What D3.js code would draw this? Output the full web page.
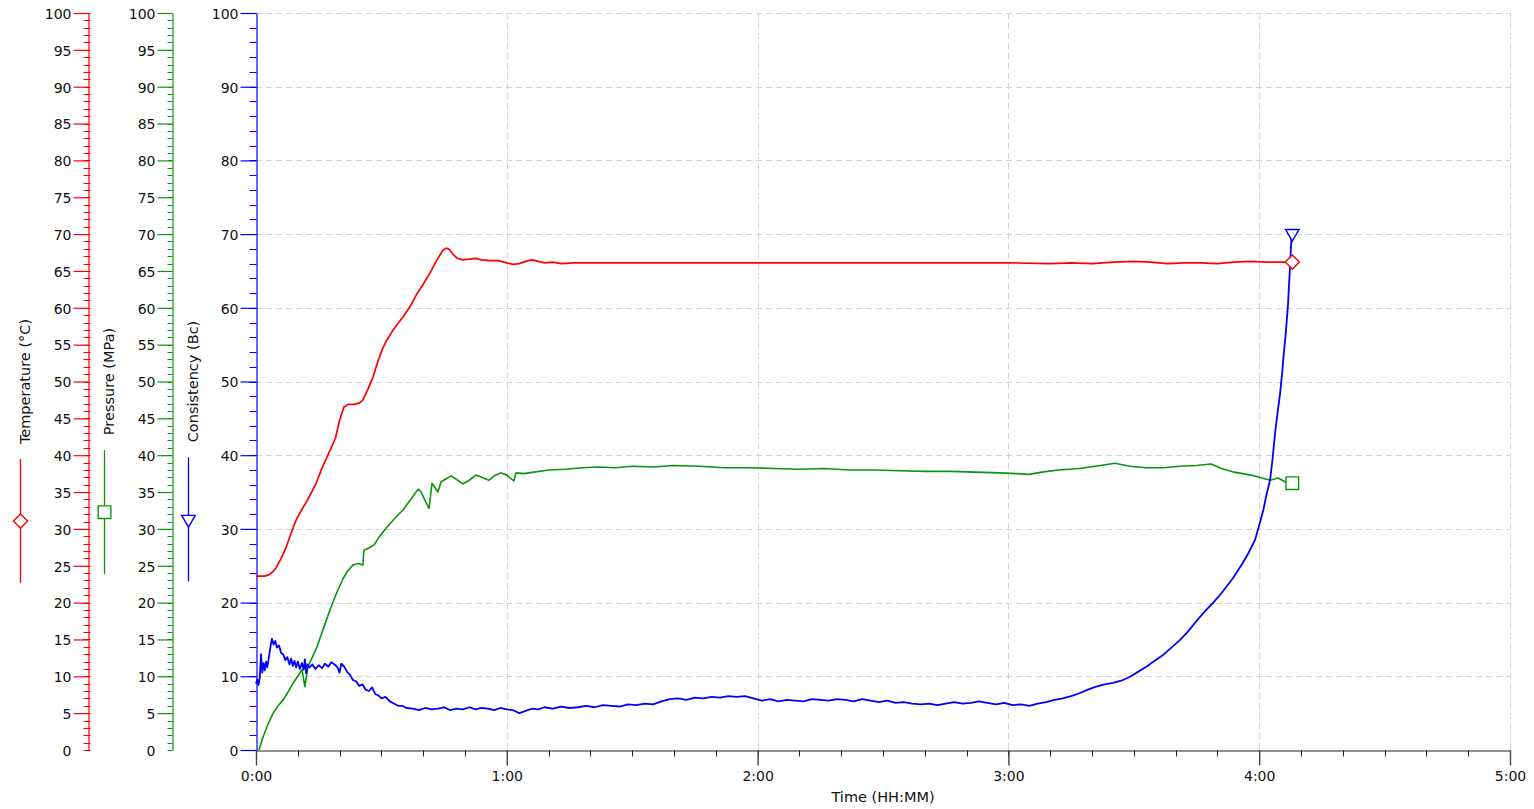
<!DOCTYPE html>
<html>
<head>
<meta charset="utf-8">
<script src="https://cdn.jsdelivr.net/npm/d3@7"></script>
<style>
  body { margin: 0; background: #fff; }
  text { font-family: "DejaVu Sans", Verdana, sans-serif; fill: #111; }
</style>
</head>
<body>
<svg id="chart" width="1534" height="809"></svg>
<script>
// time in minutes, value in axis units
var temperature = [[0,23.6],[2,23.6],[3.2,23.8],[4.2,24.3],[4.8,24.7],[6,26],[7.2,27.5],[8.4,29.4],[9.6,31.2],[10.8,32.5],
  [12,33.6],[13.2,34.9],[14.4,36.2],[15.6,38],[17.2,40],[19,42.3],[20,44.7],[21,46.5],[22,46.9],[23.5,46.9],[24.8,47.1],
  [25.6,47.5],[26.8,49],[28,50.6],[29.2,52.8],[30.3,54.5],[31.3,55.6],[32.8,57],[34,57.9],[35.2,58.8],[36.8,60.1],
  [38.4,61.8],[40,63.2],[41.6,64.7],[43.2,66.4],[44.7,67.8],[45.5,68.1],[46.3,67.9],[47.2,67.2],[48.2,66.7],[49.5,66.5],
  [51,66.6],[52.5,66.7],[54,66.5],[56,66.4],[58,66.4],[60,66.1],[61.5,65.9],[63,66],[64.5,66.3],[66,66.5],[67.5,66.3],
  [69,66.1],[71,66.2],[73,66],[76,66.1],[80,66.1],[90,66.1],[100,66.1],[110,66.1],[120,66.1],[130,66.1],[140,66.1],
  [150,66.1],[160,66.1],[170,66.1],[180,66.1],[190,66],[195,66.1],[200,66],[205,66.2],[210,66.3],[214,66.2],[218,66],
  [222,66.1],[226,66.1],[230,66],[234,66.2],[238,66.3],[242,66.2],[245,66.2],[247.8,66.2]];

var pressure = [[0.7,0],[1.7,1.8],[2.8,3.4],[4.1,5],[5.3,6],[6.5,6.8],[7.7,7.9],[8.9,9.1],[10,10],[11,10.9],[11.7,8.6],
  [12.4,11.3],[13.5,12.6],[14.6,14],[16,16.3],[17.7,19],[19.2,21.2],[20.8,23.2],[21.8,24.2],[23.2,25.1],[24.5,25.3],
  [25.6,25.1],[25.8,27.1],[27,27.4],[28.2,27.8],[29.6,29],[31.1,30.1],[33,31.3],[35.2,32.6],[37,34],[38.8,35.4],[39.5,35],
  [40.5,33.8],[41.4,32.8],[42.1,36.2],[43.5,35],[44.3,36.4],[45.5,36.8],[46.7,37.2],[48,36.7],[49.5,36.1],[51,36.6],
  [52.6,37.3],[54,37],[55.7,36.6],[57,37.2],[58.6,37.6],[60,37.3],[61.7,36.5],[62.2,37.6],[64,37.5],[66.5,37.7],[70,38],
  [74,38.1],[78,38.3],[82,38.4],[86,38.3],[90,38.5],[95,38.4],[100,38.6],[106,38.5],[112,38.3],[118,38.3],[124,38.2],
  [130,38.1],[136,38.2],[142,38],[148,38],[154,37.9],[160,37.8],[166,37.8],[172,37.7],[178,37.6],[182,37.5],[185,37.4],
  [188,37.7],[192,38],[197,38.2],[202,38.6],[205.5,38.9],[209,38.5],[213,38.3],[217,38.3],[221,38.5],[225,38.6],
  [228.5,38.8],[231,38.2],[234,37.7],[238,37.3],[240,37],[242.6,36.6],[244.5,36.9],[246.2,36.4],[247.8,36.2]];

var consistency = [[0,9],[0.3,9.6],[0.6,8.8],[0.9,9.8],[1.2,13],[1.5,10.5],[1.8,11.8],[2.1,10.8],[2.4,12],[2.7,11.2],
  [3,12.3],[3.4,13.8],[3.8,15.1],[4.2,14.3],[4.6,14.8],[5,13.9],[5.5,14.2],[6,13.2],[6.5,13],[7,12.2],[7.5,12.6],[8,11.6],
  [8.4,12.4],[8.8,11.4],[9.2,12.1],[9.6,11.2],[10,12],[10.5,11],[11,11.8],[11.4,10.9],[11.7,12.3],[12,10.4],[12.3,11.6],
  [12.8,11.2],[13.5,11.6],[14.2,11],[15,11.5],[15.8,11.1],[16.5,11.7],[17.3,11.3],[18,11.9],[18.8,11.6],[19.5,11.2],
  [20,10.5],[20.4,11.7],[21,11.4],[21.8,10.6],[22.5,10.2],[23.2,9.5],[24,9.3],[24.7,8.7],[25.5,8.9],[26.2,8.2],[27,8],
  [27.8,8.5],[28.5,7.6],[29.3,7.4],[30,7],[31,7.2],[32,6.6],[33,6.3],[34,6],[35,6],[36,5.7],[37.5,5.6],[39,5.4],[40.5,5.7],
  [42,5.5],[43.5,5.6],[45,5.8],[46.5,5.4],[48,5.6],[49.5,5.5],[51,5.8],[52.5,5.5],[54,5.7],[55.5,5.6],[57,5.4],[58.5,5.7],
  [60,5.5],[61.5,5.4],[63,5],[64.5,5.3],[66,5.6],[67.5,5.5],[69,5.8],[71,5.6],[73,5.9],[75,5.7],[77,5.8],[79,6],[81,5.8],
  [83,6.1],[85,6],[87,5.9],[89,6.2],[91,6.1],[93,6.3],[95,6.2],[97,6.6],[99,6.9],[101,7],[103,6.8],[105,7.1],[107,7],
  [109,7.2],[111,7.1],[113,7.3],[115,7.2],[117,7.3],[119,7],[121,6.7],[123,6.9],[125,6.6],[127,6.8],[129,6.7],[131,6.6],
  [133,6.9],[135,6.8],[137,6.7],[139,6.9],[141,6.8],[143,6.6],[145,6.9],[147,6.7],[149,6.5],[151,6.7],[153,6.4],[155,6.5],
  [157,6.3],[159,6.2],[161,6.3],[163,6.1],[165,6.3],[167,6.5],[169,6.3],[171,6.4],[173,6.6],[175,6.4],[177,6.2],[179,6.4],
  [181,6.1],[183,6.2],[185,6],[187,6.3],[189,6.5],[191,6.8],[193,7],[195,7.3],[197,7.7],[199,8.2],[201,8.6],[203,8.9],
  [205,9.1],[207,9.4],[209,9.9],[211,10.6],[213,11.3],[215,12.1],[217,12.9],[219,13.9],[221,14.9],[223,16.1],[225,17.5],
  [227,18.8],[229,20],[231,21.3],[233.7,23.3],[236,25.3],[237.5,26.8],[239,28.5],[240,30.5],[241,32.6],[241.8,34.8],
  [242.6,36.6],[243.2,39.5],[243.8,43],[244.4,45.8],[245,48.4],[245.5,51.2],[245.9,53.9],[246.3,56.2],[246.6,58.3],
  [246.9,60.5],[247.1,62.8],[247.4,65.7],[247.6,68.3],[247.8,70.1]];

var hourTicks = [0, 60, 120, 180, 240, 300];
var hourLabels = ["0:00", "1:00", "2:00", "3:00", "4:00", "5:00"];
var minuteTicks = d3.range(0, 301, 10);
var sideTicks = d3.range(0, 101, 5);     // temperature + pressure labels
var sideMinor = d3.range(0, 101, 1);
var mainTicks = d3.range(0, 101, 10);    // consistency labels
var mainMinor = d3.range(0, 101, 2);

var RED = "#ff0000", GREEN = "#0a960a", BLUE = "#0000ff";

var svg = d3.select("#chart");
var plotL = 256, plotR = 1510, plotT = 13, plotB = 750;

var x = d3.scaleLinear().domain([0, 300]).range([plotL, plotR]);
var y = d3.scaleLinear().domain([0, 100]).range([plotB, plotT]);

// grid
var grid = svg.append("g").attr("stroke", "#d4d4d4").attr("stroke-dasharray", "6,4").attr("stroke-width", 1);
grid.selectAll(".h").data(mainTicks.slice(1)).enter().append("line")
    .attr("x1", plotL).attr("x2", plotR)
    .attr("y1", function(d) { return Math.round(y(d)) + 0.5; }).attr("y2", function(d) { return Math.round(y(d)) + 0.5; });
grid.selectAll(".v").data(hourTicks.slice(1)).enter().append("line")
    .attr("y1", plotT).attr("y2", plotB)
    .attr("x1", function(d) { return Math.round(x(d)) + 0.5; }).attr("x2", function(d) { return Math.round(x(d)) + 0.5; });

function valueAxis(xpos, color, labels, minor, majorLen, minorFrom, minorTo, dropZero) {
  var g = svg.append("g").attr("transform", "translate(" + (xpos + 0.5) + ",0)");
  g.selectAll(".minor").data(minor).enter().append("line")
      .attr("x1", minorFrom).attr("x2", minorTo)
      .attr("y1", function(d) { return Math.round(y(d)) + 0.5; })
      .attr("y2", function(d) { return Math.round(y(d)) + 0.5; })
      .attr("stroke", color);
  var ax = g.append("g")
      .call(d3.axisLeft(y).tickValues(labels).tickSize(majorLen).tickSizeOuter(0).tickPadding(2));
  ax.select(".domain").attr("stroke", color).attr("stroke-width", 1.2);
  ax.selectAll(".tick line").attr("stroke", color).attr("stroke-width", 1.2);
  ax.selectAll(".tick text").attr("font-size", 14).attr("dy", "0.38em")
      .attr("font-family", "DejaVu Sans, Verdana, sans-serif").attr("fill", "#111");
  if (dropZero) ax.selectAll(".tick").filter(function(d) { return d === 0; }).select("line").remove();
  return g;
}

valueAxis(88, RED, sideTicks, sideMinor, 15, -5, 2, true);
valueAxis(172, GREEN, sideTicks, sideMinor, 15, -5, 0, true);
valueAxis(256, BLUE, mainTicks, mainMinor, 16, -7, 0, false);

// time axis
var xg = svg.append("g").attr("transform", "translate(0," + (plotB + 0.5) + ")");
xg.selectAll(".minor").data(minuteTicks).enter().append("line")
    .attr("x1", function(d) { return Math.round(x(d)) + 0.5; })
    .attr("x2", function(d) { return Math.round(x(d)) + 0.5; })
    .attr("y1", 0).attr("y2", 6).attr("stroke", "#222");
var xa = xg.append("g").call(d3.axisBottom(x).tickValues(hourTicks).tickSize(15).tickSizeOuter(0).tickPadding(6)
    .tickFormat(function(d, i) { return hourLabels[i]; }));
xa.select(".domain").attr("stroke", "#222").attr("stroke-width", 1.2);
xa.selectAll(".tick line").attr("stroke", "#444").attr("stroke-width", 1.4);
xa.selectAll(".tick text").attr("font-size", 14).attr("font-family", "DejaVu Sans, Verdana, sans-serif").attr("fill", "#111");

svg.append("text").attr("x", (plotL + plotR) / 2).attr("y", 802)
    .attr("text-anchor", "middle").attr("font-size", 14.5).text("Time (HH:MM)");

// series
var line = d3.line().x(function(d) { return x(d[0]); }).y(function(d) { return y(d[1]); });
var series = [
  {name: "Temperature (°C)", data: temperature, color: RED, width: 1.7, axisX: 88, marker: "diamond"},
  {name: "Pressure (MPa)", data: pressure, color: GREEN, width: 1.6, axisX: 172, marker: "square"},
  {name: "Consistency (Bc)", data: consistency, color: BLUE, width: 1.8, axisX: 256, marker: "triangle"}
];

function marker(g, type, color) {
  var sym;
  if (type === "diamond") sym = g.append("path").attr("d", d3.symbol(d3.symbolSquare, 100)()).attr("transform", "rotate(45)");
  else if (type === "square") sym = g.append("path").attr("d", d3.symbol(d3.symbolSquare, 160)());
  else sym = g.append("path").attr("d", d3.symbol(d3.symbolTriangle, 80)()).attr("transform", "rotate(180)");
  sym.attr("fill", "#fff").attr("stroke", color).attr("stroke-width", 1.4);
}

series.forEach(function(s) {
  svg.append("path").datum(s.data).attr("d", line)
      .attr("fill", "none").attr("stroke", s.color).attr("stroke-width", s.width).attr("stroke-linejoin", "round");
});
series.forEach(function(s) {
  var last = s.data[s.data.length - 1];
  var m = svg.append("g").attr("transform", "translate(" + (x(last[0]) + 0.5) + "," + y(last[1]) + ")");
  marker(m, s.marker, s.color);
});

// legends along the side axes
var mid = (plotT + plotB) / 2;
series.forEach(function(s) {
  var t = svg.append("text")
      .attr("transform", "translate(" + (s.axisX - 58) + "," + mid + ") rotate(-90)")
      .attr("text-anchor", "middle").attr("font-size", 14.5).text(s.name);
  var len = t.node().getComputedTextLength();
  var lx = s.axisX - 67.5;
  var y0 = mid + len / 2 + 15;
  svg.append("line").attr("x1", lx).attr("x2", lx).attr("y1", y0).attr("y2", y0 + 124)
      .attr("stroke", s.color).attr("stroke-width", 1.3);
  var m = svg.append("g").attr("transform", "translate(" + lx + "," + (y0 + 62) + ")");
  marker(m, s.marker, s.color);
});
</script>
</body>
</html>
